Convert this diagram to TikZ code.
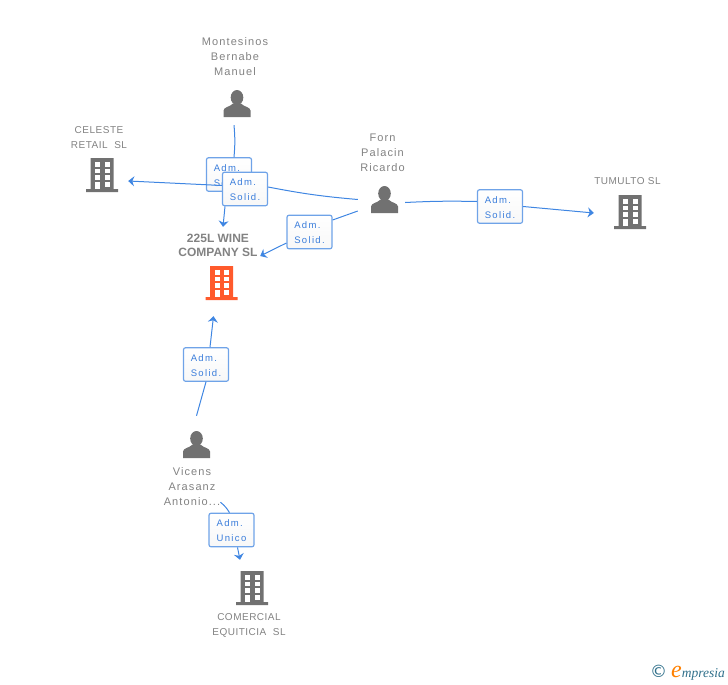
\documentclass[tikz,border=0pt]{standalone}
\usepackage{fontspec}
\setmainfont{Liberation Sans}
\newfontfamily\spacedfont[LetterSpace=10]{Liberation Sans}
\newfontfamily\rolefont[LetterSpace=14]{Liberation Sans}
\newfontfamily\capsfont[LetterSpace=5]{Liberation Sans}
\newfontfamily\logofont{Liberation Serif}
\newfontfamily\logosign{DejaVu Sans}
\usetikzlibrary{arrows.meta}
\definecolor{icongray}{HTML}{717171}
\definecolor{textgray}{HTML}{828282}
\definecolor{linkblue}{HTML}{3F86E2}
\definecolor{boxblue}{HTML}{6FA3E8}
\definecolor{textblue}{HTML}{3A7DDB}
\definecolor{brandorange}{HTML}{FF5A2C}
\definecolor{logoteal}{HTML}{2F6F8A}
\newcommand{\roletext}[2]{\rule{0pt}{9pt}#1\\#2}
\tikzset{
    icon/.style={inner sep=0pt,minimum width=30pt,minimum height=30pt},
    personname/.style={inner sep=0pt,align=center,text=textgray,font=\fontsize{11}{15}\selectfont\spacedfont},
    firmname/.style={inner sep=0pt,align=center,text=textgray,font=\fontsize{10}{15}\selectfont\capsfont},
    rolebox/.style={draw=boxblue,line width=1.2pt,rounded corners=2pt,top color=white,bottom color=black!3,
        minimum width=45pt,minimum height=33.5pt,inner sep=0pt,align=left,text=textblue,
        font=\fontsize{9.5}{15}\selectfont\rolefont},
    link/.style={draw=linkblue,line width=1pt},
    linktip/.style={link,-{Stealth[length=6pt,width=10pt]}},
    building/.pic={
        \fill[pic actions] (-11.5,-17) rectangle (11.5,14) (-16,14) rectangle (16,17);
        \foreach \y in {-13,-6.5,0} {
            \fill[white] (-7,\y) rectangle ++(5,4.5);
            \fill[white] (2.5,\y) rectangle ++(5,4.5);
        }
        \fill[white] (-7,6.5) rectangle (-2,14);
        \fill[white] (2.5,6.5) rectangle ++(5,5);
    },
    person/.pic={
        \fill[pic actions] (0,-6) ellipse (6.3 and 7.5);
        \fill[pic actions] (-13.5,13.5) -- (-13.5,7) .. controls (-13.5,3.5) and (-7,3.5) .. (-4,0)
            -- (4,0) .. controls (7,3.5) and (13.5,3.5) .. (13.5,7) -- (13.5,13.5) -- cycle;
    }
}
\begin{document}
\begin{tikzpicture}[x=1pt,y=-1pt]
    \useasboundingbox (0,0) rectangle (728,685);

    % people
    \node[icon] (montesinos) at (237,103.5) {};
    \node[icon] (forn) at (384.5,199.5) {};
    \node[icon] (vicens) at (196.5,444.5) {};
    \pic[fill=icongray] at (montesinos) {person};
    \pic[fill=icongray] at (forn) {person};
    \pic[fill=icongray] at (vicens) {person};

    % companies
    \node[icon] (celeste) at (102,175) {};
    \node[icon] (company) at (221.5,283) {};
    \node[icon] (tumulto) at (630,212) {};
    \node[icon] (comercial) at (252,588) {};
    \pic[fill=icongray] at (celeste) {building};
    \pic[fill=brandorange] at (company) {building};
    \pic[fill=icongray] at (tumulto) {building};
    \pic[fill=icongray] at (comercial) {building};

    % labels
    \node[personname] (montesinoslabel) at (235,57) {Montesinos\\Bernabe\\Manuel};
    \node[personname] (fornlabel) at (382.5,152.5) {Forn\\Palacin\\Ricardo};
    \node[personname,minimum width=56pt,minimum height=45pt] (vicenslabel) at (192,487) {Vicens\\Arasanz\\Antonio...};
    \node[firmname] (celestelabel) at (99,137.5) {CELESTE\\RETAIL~~SL};
    \node[firmname] (tumultolabel) at (627.5,181.5) {TUMULTO SL};
    \node[firmname] (comerciallabel) at (249,625.5) {COMERCIAL\\EQUITICIA~~SL};
    \node[inner sep=0pt,align=center,text=textgray,minimum width=84pt,minimum height=30pt,
        font=\fontsize{12}{14}\selectfont\bfseries] (companylabel) at (218,245) {225L WINE\\COMPANY SL};

    % boxes
    \node[rolebox] (box1) at (229,174.5) {\roletext{Adm.}{Solid.}};
    \node[rolebox] (box2) at (245,189) {\roletext{Adm.}{Solid.}};
    \node[rolebox] (box3) at (309.5,232) {\roletext{Adm.}{Solid.}};
    \node[rolebox] (box4) at (500,206.5) {\roletext{Adm.}{Solid.}};
    \node[rolebox] (box5) at (206,364.5) {\roletext{Adm.}{Solid.}};
    \node[rolebox] (box6) at (231.5,530) {\roletext{Adm.}{Unico}};

    % connectors
    \draw[link] ([shift={(-3,6.5)}]montesinos.south) to[bend left=5] ([shift={(5,0)}]box1.north);
    \draw[link] ([shift={(-11.5,0)}]forn.west) to[bend left=3] ([shift={(0,-2)}]box2.east);
    \draw[linktip] ([shift={(0,-3.5)}]box2.west) to ([shift={(11,6)}]celeste.east);
    \draw[link] ([shift={(-11.5,11.5)}]forn.west) to ([shift={(0,-12)}]box3.east);
    \draw[link] ([shift={(5.5,3)}]forn.east) to[bend left=2] ([shift={(0,-5)}]box4.west);
    \draw[linktip] ([shift={(-20,0)}]box2.south) to ([shift={(5,-3)}]companylabel.north);
    \draw[linktip] ([shift={(0,11)}]box3.west) to ([shift={(0,11)}]companylabel.east);
    \draw[linktip] (box4.east) to ([shift={(-21,1)}]tumulto.west);
    \draw[link] ([shift={(0,-13.5)}]vicens.north) to (box5.south);
    \draw[linktip] ([shift={(4,0)}]box5.north) to ([shift={(-8,18)}]company.south);
    \draw[link] ([shift={(0,-7.5)}]vicenslabel.south east) to[bend left=10] ([shift={(-2,0)}]box6.north);
    \draw[linktip] ([shift={(6,0)}]box6.south) to ([shift={(-12,-13)}]comercial.north);

    % logo
    \node[inner sep=0pt,anchor=east,text=logoteal,font=\fontsize{13.5}{13}\selectfont\logofont\itshape] (logo) at (725,673)
        {{\upshape\logosign\fontsize{17}{13}\selectfont ©}\hspace{4pt}{\color{orange}\fontsize{24}{13}\selectfont e}mpresia};
\end{tikzpicture}
\end{document}
